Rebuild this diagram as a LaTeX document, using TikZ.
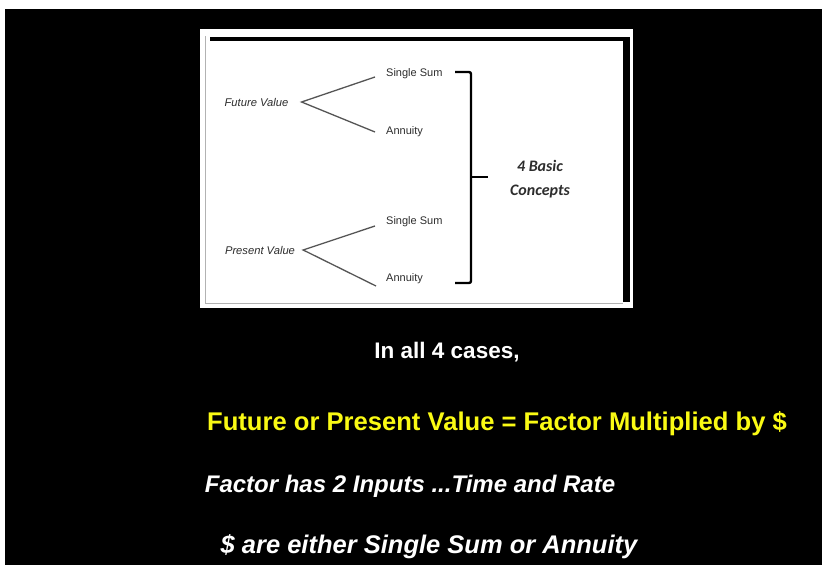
\documentclass[tikz,border=0pt]{standalone}
\usepackage{fontspec}
\setmainfont{Liberation Sans}
\newfontfamily\calib{Carlito}
\definecolor{ink}{RGB}{45,45,45}
\definecolor{branch}{RGB}{85,85,85}
\definecolor{slideyellow}{RGB}{250,250,20}
\begin{document}
\begin{tikzpicture}[x=1pt,y=-1pt,
  small/.style={inner sep=0pt, text=ink, font=\fontsize{11}{13}\selectfont},
  smallit/.style={small, font=\itshape\fontsize{11.2}{13}\selectfont},
  branchline/.style={draw=branch, line width=1.3pt},
  bigtext/.style={inner sep=0pt, font=\bfseries\fontsize{22.5}{27}\selectfont, text=white},
  yeltext/.style={inner sep=0pt, font=\bfseries\fontsize{25.6}{30}\selectfont, text=slideyellow},
  ittext/.style={inner sep=0pt, font=\bfseries\itshape\fontsize{24}{28}\selectfont, text=white},
  ittextb/.style={inner sep=0pt, font=\bfseries\itshape\fontsize{25.5}{30}\selectfont, text=white}]
\useasboundingbox (0,0) rectangle (822,565);
\fill[white] (0,0) rectangle (822,565);
\fill[black] (5,9) rectangle (822,565);
% framed picture
\fill[white] (200,29) rectangle (633,308);
\fill[black] (210,37) rectangle (629,41);
\fill[black] (623,37) rectangle (630,302);
\draw[gray!60, line width=0.9pt] (205,36) -- (205,303) -- (623,303);
% tree
\node[smallit] (fv) at (256.5,102) {Future Value};
\node[small, anchor=west] (ss1) at (386,74) {Single Sum};
\node[small, anchor=west] (an1) at (386,132) {Annuity};
\node[smallit] (pv) at (260,250) {Present Value};
\node[small, anchor=west] (ss2) at (386,222) {Single Sum};
\node[small, anchor=west] (an2) at (386,279) {Annuity};
\coordinate (fvj) at ([xshift=13pt]fv.east);
\coordinate (pvj) at ([xshift=8pt]pv.east);
\draw[branchline] ([xshift=-11pt,yshift=-3pt]ss1.west) -- (fvj) -- ([xshift=-11pt]an1.west);
\draw[branchline] ([xshift=-11pt,yshift=-4pt]ss2.west) -- (pvj) -- ([xshift=-10pt,yshift=-7pt]an2.west);
% brace
\coordinate (btop) at (455,72);
\coordinate (bbot) at (455,283);
\coordinate (btip) at (488,177);
\draw[line width=2.4pt, rounded corners=2pt] (btop) -- (471,72) -- (471,283) -- (bbot);
\draw[line width=2.4pt] (471,177) -- (btip);
\node[inner sep=0pt, text=ink, align=center, font=\calib\bfseries\itshape\fontsize{16}{24}\selectfont] (four) at (540,179) {4 Basic\\Concepts};
% slide text
\node[bigtext] (cases) at (447,352) {In all 4 cases,};
\node[yeltext] (eq) at (497,424) {Future or Present Value = Factor Multiplied by \$};
\node[ittext] (inputs) at (410,486) {Factor has 2 Inputs ...Time and Rate};
\node[ittextb] (dollars) at (429,547) {\$ are either Single Sum or Annuity};
\end{tikzpicture}
\end{document}
